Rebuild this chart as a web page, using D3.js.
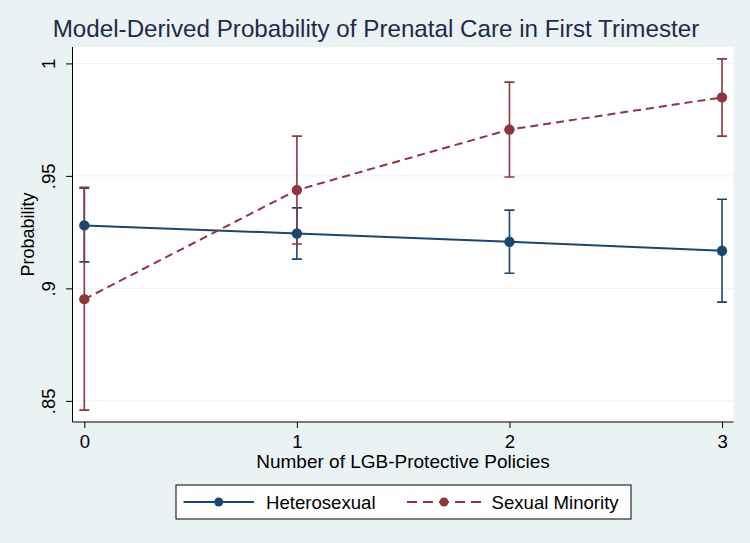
<!DOCTYPE html>
<html>
<head>
<meta charset="utf-8">
<script src="https://cdn.jsdelivr.net/npm/d3@7"></script>
<style>
  html, body { margin: 0; padding: 0; background: #eaf2f3; }
  text { font-family: "Liberation Sans", Arial, Helvetica, sans-serif; }
</style>
</head>
<body>
<svg id="chart"></svg>
<script>
// values
const policies = [0, 1, 2, 3];
const seriesNames = ["Heterosexual", "Sexual Minority"];
const heteroProb = [0.928, 0.9244, 0.9207, 0.9167];
const heteroLower = [0.9118, 0.913, 0.9067, 0.8939];
const heteroUpper = [0.9445, 0.9358, 0.9348, 0.9396];
const minorityProb = [0.8952, 0.9437, 0.9706, 0.9849];
const minorityLower = [0.8459, 0.9197, 0.9495, 0.9677];
const minorityUpper = [0.9449, 0.9677, 0.9917, 1.002];
const yTicks = [0.85, 0.9, 0.95, 1];
const yTickLabels = [".85", ".9", ".95", "1"];
const xTicks = [0, 1, 2, 3];

const width = 750,
	height = 543;
const plot = { left: 72.5, right: 733.5, top: 47, bottom: 422 };

const navy = "#1a476f",
	maroon = "#90353b";

const svg = d3.select("#chart")
	.attr("width", width)
	.attr("height", height);

svg.append("rect")
	.attr("width", width)
	.attr("height", height)
	.attr("fill", "#eaf2f3");

const x = d3.scaleLinear()
	.domain([-0.0556, 3.054])
	.range([plot.left, plot.right]);
const y = d3.scaleLinear()
	.domain([0.8406, 1.0073])
	.range([plot.bottom, plot.top]);

// plot region
svg.append("rect")
	.attr("x", plot.left)
	.attr("y", plot.top)
	.attr("width", plot.right - plot.left)
	.attr("height", plot.bottom - plot.top)
	.attr("fill", "#fff");

// grid
svg.append("g")
	.selectAll("line")
	.data(yTicks)
	.join("line")
	  .attr("x1", plot.left)
	  .attr("x2", plot.right)
	  .attr("y1", d => y(d))
	  .attr("y2", d => y(d))
	  .attr("stroke", "#eaf2f3")
	  .attr("stroke-width", 1);

// axes
const yAxis = svg.append("g")
	.attr("transform", `translate(${plot.left},0)`)
	.call(d3.axisLeft(y).tickValues(yTicks).tickSize(6.5).tickFormat((d, i) => yTickLabels[i]));
yAxis.select(".domain").attr("d", `M0,${plot.top}V${plot.bottom}`).attr("stroke", "#000");
yAxis.selectAll(".tick line").attr("stroke", "#000");
yAxis.selectAll(".tick text")
	.attr("x", null).attr("dy", null)
	.attr("transform", "translate(-18,0) rotate(-90)")
	.attr("text-anchor", "middle")
	.attr("font-size", 18.5)
	.attr("fill", "#000");

const xAxis = svg.append("g")
	.attr("transform", `translate(0,${plot.bottom})`)
	.call(d3.axisBottom(x).tickValues(xTicks).tickSize(6).tickFormat(d3.format("d")));
xAxis.select(".domain").attr("d", `M${plot.left},0H${plot.right}`).attr("stroke", "#000");
xAxis.selectAll(".tick line").attr("stroke", "#000");
xAxis.selectAll(".tick text")
	.attr("y", 26).attr("dy", null)
	.attr("font-size", 18.5)
	.attr("fill", "#000");
svg.selectAll(".tick text").attr("font-family", "Liberation Sans, Arial, sans-serif");

// titles
svg.append("text")
	.attr("x", width / 2 + 1)
	.attr("y", 37)
	.attr("text-anchor", "middle")
	.attr("font-size", 24.2)
	.attr("fill", "#1f2a4c")
	.text("Model-Derived Probability of Prenatal Care in First Trimester");

svg.append("text")
	.attr("x", (plot.left + plot.right) / 2 + 0)
	.attr("y", 468)
	.attr("text-anchor", "middle")
	.attr("font-size", 19)
	.attr("fill", "#000")
	.text("Number of LGB-Protective Policies");

svg.append("text")
	.attr("transform", `translate(34,${(plot.top + plot.bottom) / 2}) rotate(-90)`)
	.attr("text-anchor", "middle")
	.attr("font-size", 18)
	.attr("fill", "#000")
	.text("Probability");

const series = [
	{ name: seriesNames[0], color: navy, dash: null, prob: heteroProb, lo: heteroLower, hi: heteroUpper },
	{ name: seriesNames[1], color: maroon, dash: "8,5", prob: minorityProb, lo: minorityLower, hi: minorityUpper },
];

// confidence intervals
series.forEach(s => {
	const g = svg.append("g")
		.attr("stroke", s.color)
		.attr("stroke-width", 1.6)
		.attr("fill", "none");
	g.selectAll("path")
	  .data(policies)
	  .join("path")
	    .attr("d", (d, i) => {
	    	const cx = x(d), y0 = y(s.lo[i]), y1 = y(s.hi[i]);
	    	return `M${cx - 5},${y1}H${cx + 5}M${cx},${y1}V${y0}M${cx - 5},${y0}H${cx + 5}`;
	    });
});

// lines and markers
const line = d3.line()
	.x(d => x(d[0]))
	.y(d => y(d[1]));

series.forEach(s => {
	const pts = policies.map((p, i) => [p, s.prob[i]]);
	svg.append("path")
		.datum(pts)
		.attr("d", line)
		.attr("fill", "none")
		.attr("stroke", s.color)
		.attr("stroke-width", 2)
		.attr("stroke-dasharray", s.dash);
	svg.append("g")
		.selectAll("circle")
		.data(pts)
		.join("circle")
		  .attr("cx", d => x(d[0]))
		  .attr("cy", d => y(d[1]))
		  .attr("r", 5.2)
		  .attr("fill", s.color);
});

// legend
const legend = svg.append("g");
legend.append("rect")
	.attr("x", 176)
	.attr("y", 485)
	.attr("width", 455)
	.attr("height", 34)
	.attr("fill", "#fff")
	.attr("stroke", "#000")
	.attr("stroke-width", 1);

const legendItems = [
	{ s: series[0], x0: 183.5, x1: 254, tx: 266 },
	{ s: series[1], x0: 407, x1: 481, tx: 491.5 },
];
legendItems.forEach(it => {
	const cy = 502;
	legend.append("line")
		.attr("x1", it.x0).attr("x2", it.x1)
		.attr("y1", cy).attr("y2", cy)
		.attr("stroke", it.s.color)
		.attr("stroke-width", 2)
		.attr("stroke-dasharray", it.s.dash ? "10,6" : null);
	legend.append("circle")
		.attr("cx", (it.x0 + it.x1) / 2)
		.attr("cy", cy)
		.attr("r", 4.5)
		.attr("fill", it.s.color);
	legend.append("text")
		.attr("x", it.tx)
		.attr("y", cy + 6.7)
		.attr("font-size", 18.6)
		.attr("fill", "#000")
		.text(it.s.name);
});
</script>
</body>
</html>
